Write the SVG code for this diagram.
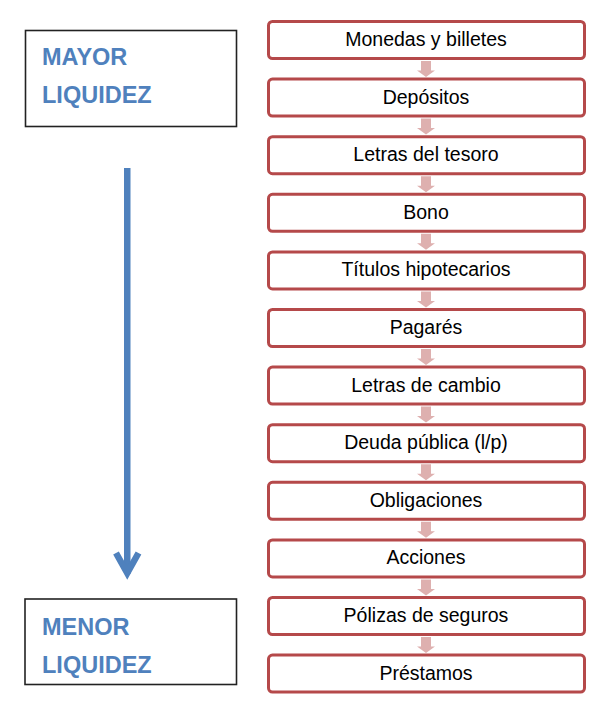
<svg xmlns="http://www.w3.org/2000/svg" width="612" height="714" viewBox="0 0 612 714">
<style>
.step{fill:#fff;stroke:#B5494A;stroke-width:3}
.st{font-family:"Liberation Sans",Arial,sans-serif;font-size:19.5px;fill:#000;text-anchor:middle}
.lbox{fill:#fff;stroke:#222;stroke-width:1.6}
.lt{font-family:"Liberation Sans",Arial,sans-serif;font-size:23.5px;font-weight:bold;fill:#4F81BD}
.ar{fill:#DEB0AF}
</style>
<rect width="612" height="714" fill="#fff"/>
<g id="mayor">
<rect class="lbox" x="25.5" y="30.5" width="211" height="96"/>
<text class="lt" x="42" y="65">MAYOR</text>
<text class="lt" x="42" y="103">LIQUIDEZ</text>
</g>
<g id="menor">
<rect class="lbox" x="25" y="599" width="211.5" height="85.5"/>
<text class="lt" x="42" y="635">MENOR</text>
<text class="lt" x="42" y="673">LIQUIDEZ</text>
</g>
<g id="connectors">
<line x1="127.25" y1="168" x2="127.25" y2="574" stroke="#4F81BD" stroke-width="6.5"/>
<polyline points="116,553 127.25,573 138.5,553" fill="none" stroke="#4F81BD" stroke-width="6.5" stroke-linejoin="miter" stroke-miterlimit="10"/>
<polygon class="ar" points="421,61 431,61 431,70.5 435,70.5 426,77 417,70.5 421,70.5"/>
<polygon class="ar" points="421,118.6 431,118.6 431,128.1 435,128.1 426,134.6 417,128.1 421,128.1"/>
<polygon class="ar" points="421,176.2 431,176.2 431,185.7 435,185.7 426,192.2 417,185.7 421,185.7"/>
<polygon class="ar" points="421,233.8 431,233.8 431,243.3 435,243.3 426,249.8 417,243.3 421,243.3"/>
<polygon class="ar" points="421,291.4 431,291.4 431,300.9 435,300.9 426,307.4 417,300.9 421,300.9"/>
<polygon class="ar" points="421,349 431,349 431,358.5 435,358.5 426,365 417,358.5 421,358.5"/>
<polygon class="ar" points="421,406.6 431,406.6 431,416.1 435,416.1 426,422.6 417,416.1 421,416.1"/>
<polygon class="ar" points="421,464.2 431,464.2 431,473.7 435,473.7 426,480.2 417,473.7 421,473.7"/>
<polygon class="ar" points="421,521.8 431,521.8 431,531.3 435,531.3 426,537.8 417,531.3 421,531.3"/>
<polygon class="ar" points="421,579.4 431,579.4 431,588.9 435,588.9 426,595.4 417,588.9 421,588.9"/>
<polygon class="ar" points="421,637 431,637 431,646.5 435,646.5 426,653 417,646.5 421,646.5"/>
</g>
<g id="n1"><rect class="step" x="268.5" y="21.5" width="316" height="37" rx="4"/><text class="st" x="426" y="46">Monedas y billetes</text></g>
<g id="n2"><rect class="step" x="268.5" y="79.1" width="316" height="37" rx="4"/><text class="st" x="426" y="103.6">Depósitos</text></g>
<g id="n3"><rect class="step" x="268.5" y="136.7" width="316" height="37" rx="4"/><text class="st" x="426" y="161.2">Letras del tesoro</text></g>
<g id="n4"><rect class="step" x="268.5" y="194.3" width="316" height="37" rx="4"/><text class="st" x="426" y="218.8">Bono</text></g>
<g id="n5"><rect class="step" x="268.5" y="251.9" width="316" height="37" rx="4"/><text class="st" x="426" y="276.4">Títulos hipotecarios</text></g>
<g id="n6"><rect class="step" x="268.5" y="309.5" width="316" height="37" rx="4"/><text class="st" x="426" y="334">Pagarés</text></g>
<g id="n7"><rect class="step" x="268.5" y="367.1" width="316" height="37" rx="4"/><text class="st" x="426" y="391.6">Letras de cambio</text></g>
<g id="n8"><rect class="step" x="268.5" y="424.7" width="316" height="37" rx="4"/><text class="st" x="426" y="449.2">Deuda pública (l/p)</text></g>
<g id="n9"><rect class="step" x="268.5" y="482.3" width="316" height="37" rx="4"/><text class="st" x="426" y="506.8">Obligaciones</text></g>
<g id="n10"><rect class="step" x="268.5" y="539.9" width="316" height="37" rx="4"/><text class="st" x="426" y="564.4">Acciones</text></g>
<g id="n11"><rect class="step" x="268.5" y="597.5" width="316" height="37" rx="4"/><text class="st" x="426" y="622">Pólizas de seguros</text></g>
<g id="n12"><rect class="step" x="268.5" y="655.1" width="316" height="37" rx="4"/><text class="st" x="426" y="679.6">Préstamos</text></g>
</svg>
